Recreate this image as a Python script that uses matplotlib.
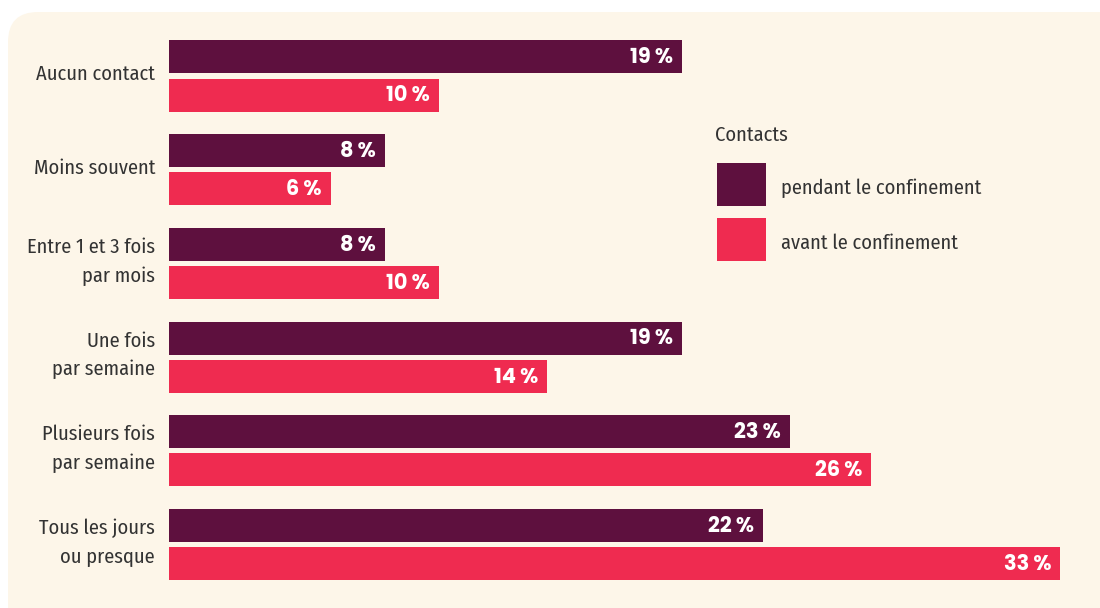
import numpy as np
import matplotlib
matplotlib.use("Agg")
import matplotlib.pyplot as plt
from matplotlib.patches import FancyBboxPatch, Rectangle

categories = ["Aucun contact", "Moins souvent", "Entre 1 et 3 fois\npar mois",
              "Une fois\npar semaine", "Plusieurs fois\npar semaine", "Tous les jours\nou presque"]
pendant = [19, 8, 8, 19, 23, 22]
avant = [10, 6, 10, 14, 26, 33]
series_names = ["pendant le confinement", "avant le confinement"]
legend_title = "Contacts"

purple = "#5E103E"
pink = "#EF2B50"
cream = "#FDF6E9"
txt = "#333333"
label_font = ["Fira Sans Condensed", "PT Sans Narrow", "Roboto Condensed", "DejaVu Sans"]
value_font = ["Poppins", "DejaVu Sans"]

W, H = 1100, 608
fig = plt.figure(figsize=(W / 100, H / 100), dpi=100)
fig.patch.set_facecolor("white")

# background panel, in pixel coords
bg = fig.add_axes([0, 0, 1, 1])
bg.set_xlim(0, W)
bg.set_ylim(H, 0)
bg.axis("off")
bg.add_patch(FancyBboxPatch((8 + 30, 12 + 30), W + 40 - 30, H + 40 - 30,
                            boxstyle="round,pad=30,rounding_size=30",
                            fc=cream, ec="none"))

# legend
fs = 14.7
bg.text(715, 135, legend_title, fontsize=fs, family=label_font, color=txt, va="center", ha="left")
for k, (name, col) in enumerate(zip(series_names, [purple, pink])):
    y0 = 163 + k * 55
    bg.add_patch(Rectangle((717, y0), 49, 43, fc=col, ec="none"))
    bg.text(781, y0 + 25, name, fontsize=fs, family=label_font, color=txt, va="center", ha="left")

# bars
x0 = 169
pxper = 27.0
ax = fig.add_axes([x0 / W, 0, (W - x0) / W, 1])
ax.patch.set_alpha(0)
ax.set_xlim(0, (W - x0) / pxper)
unit = 93.7
ax.set_ylim(5 + (H - 544.5) / unit, -76 / unit)
ax.axis("off")

y = np.arange(len(categories))
off = 0.203
h = 0.352
ax.barh(y - off, pendant, height=h, color=purple, left=0)
ax.barh(y + off, avant, height=h, color=pink, left=0)

pad = 9 / pxper
for i in range(len(categories)):
    for v, yy in ((pendant[i], y[i] - off), (avant[i], y[i] + off)):
        ax.text(v - pad, yy + 0.015, f"{v}\u2009%", ha="right", va="center", color="white",
                fontsize=15, fontweight="bold", family=value_font)
    ax.text(-14 / pxper, y[i] - 0.02, categories[i], ha="right", va="center",
            fontsize=fs, family=label_font, color=txt, linespacing=1.6, clip_on=False)

fig.savefig("out.png", dpi=100, facecolor="white")
